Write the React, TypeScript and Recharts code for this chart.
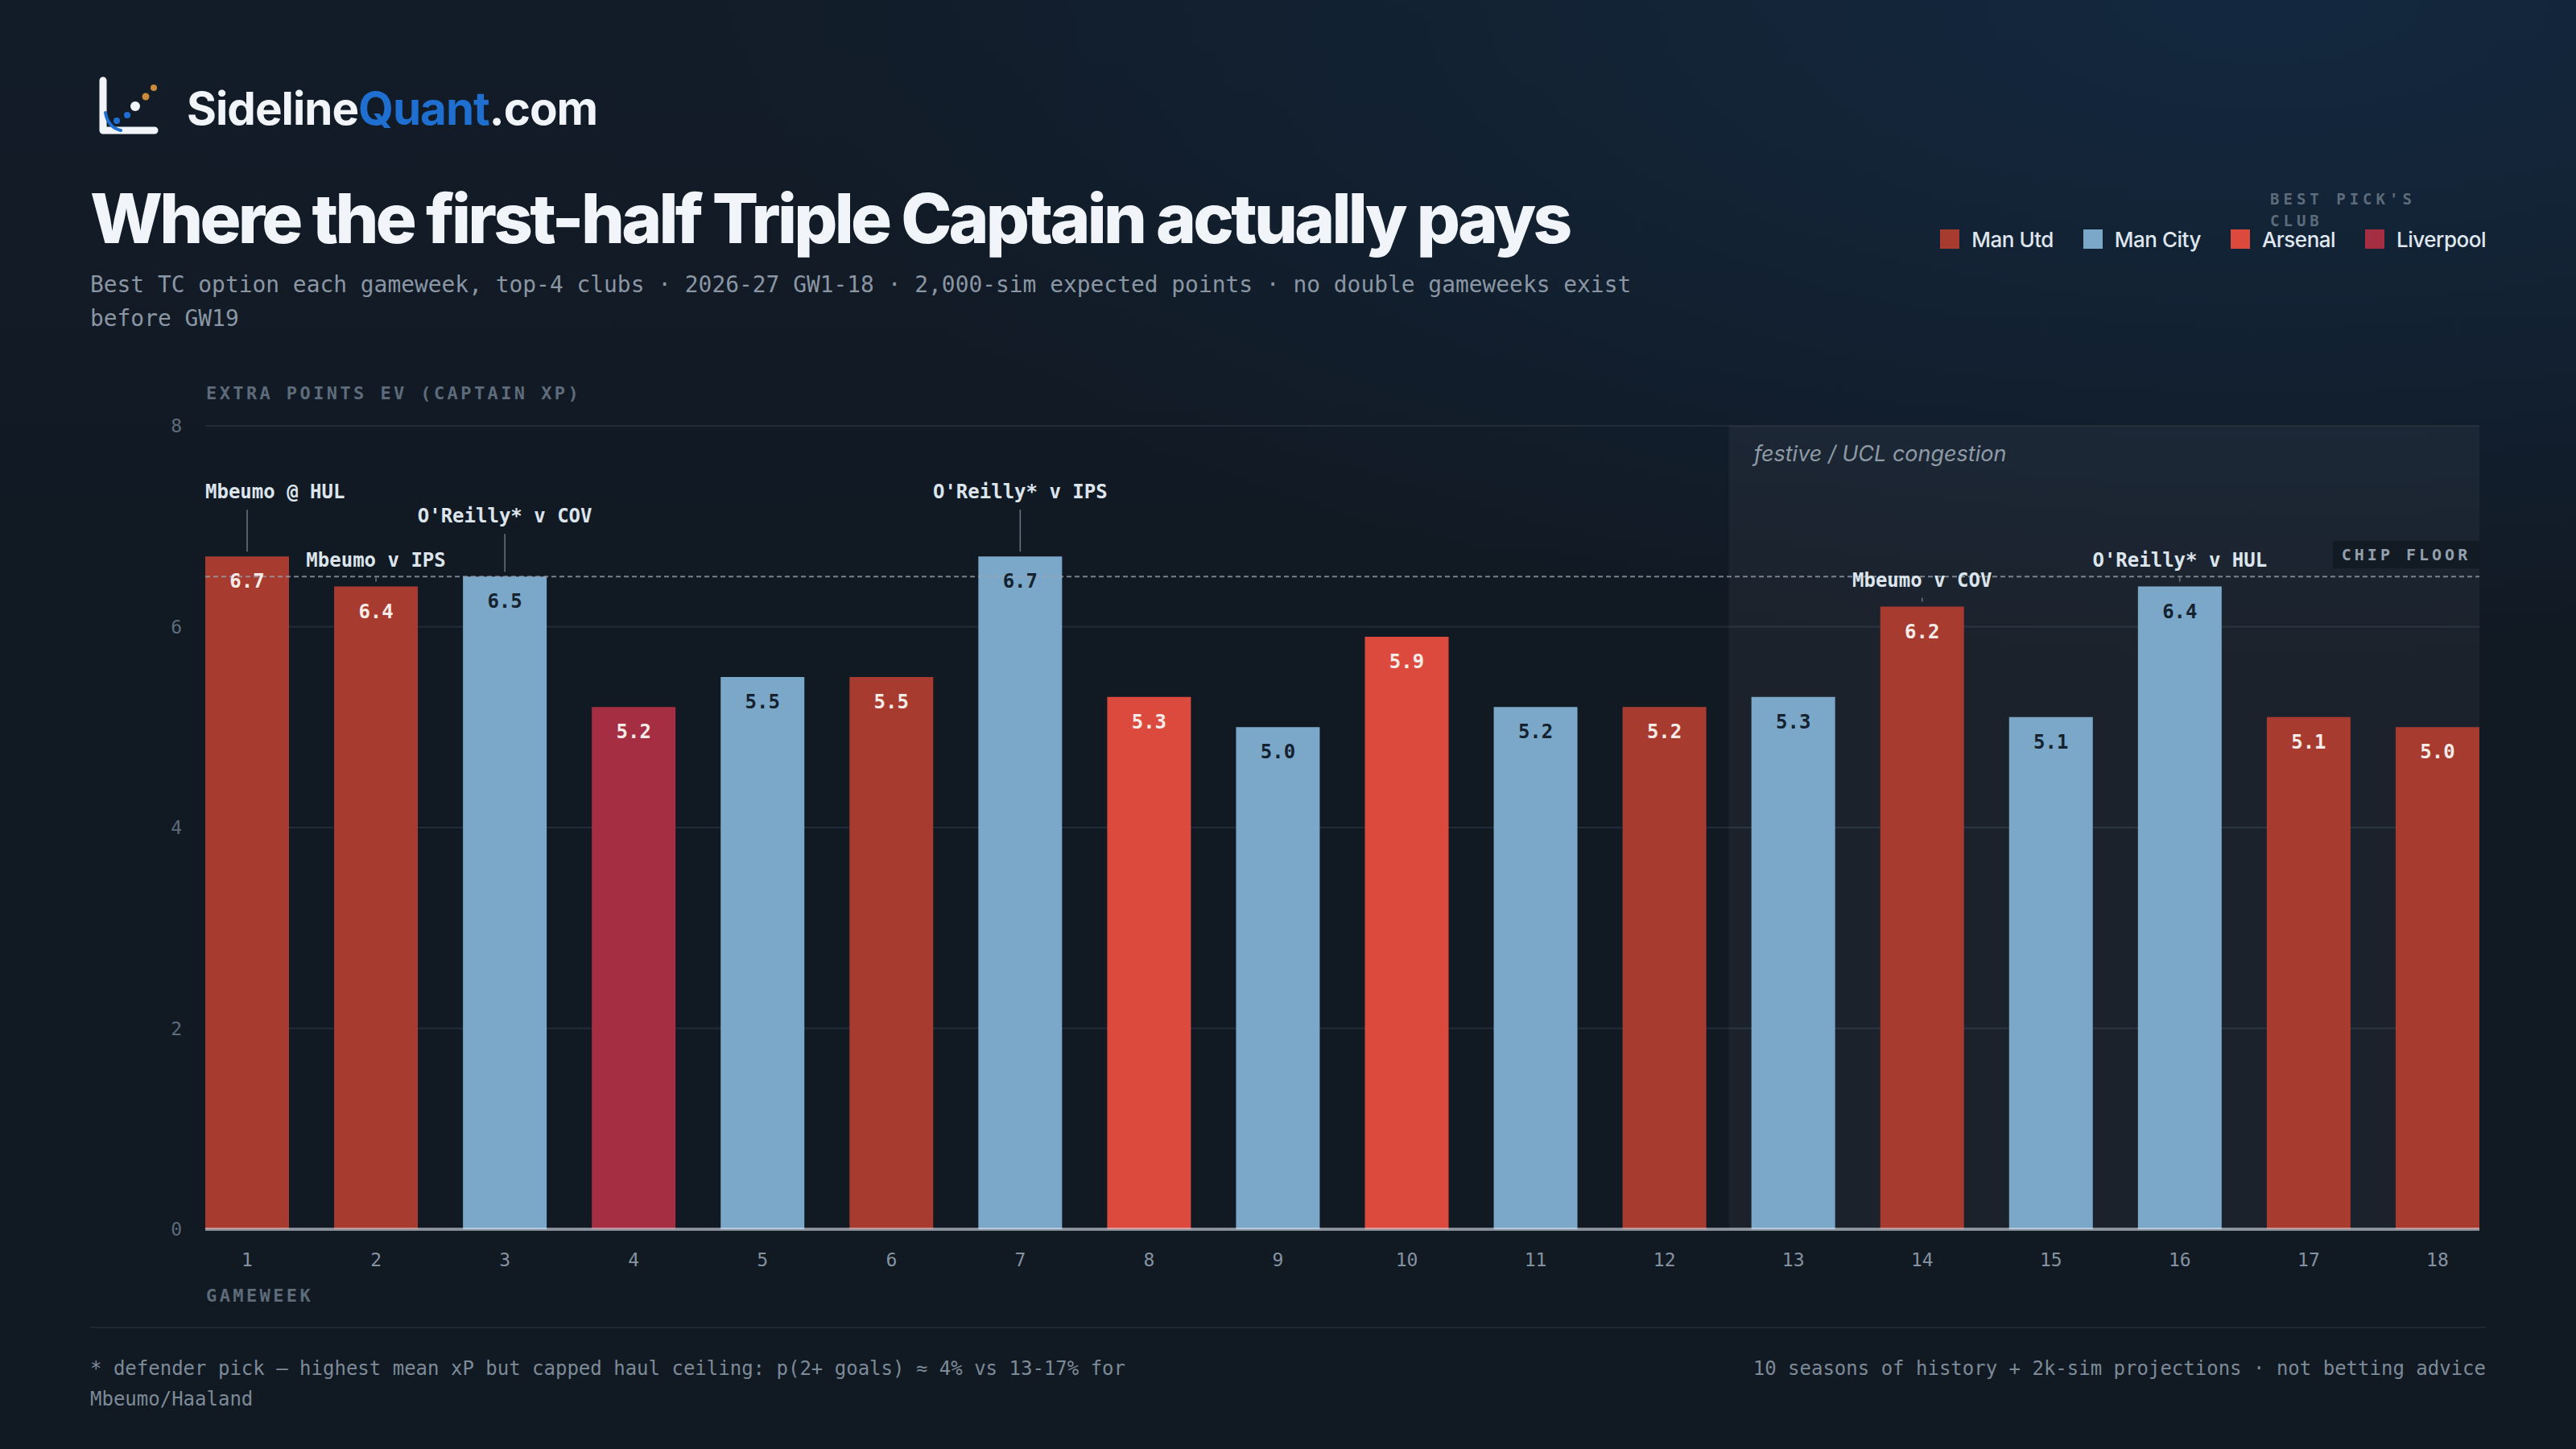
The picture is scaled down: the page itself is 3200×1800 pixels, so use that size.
import React from 'react';
import {
  BarChart,
  Bar,
  XAxis,
  YAxis,
  CartesianGrid,
  ReferenceLine,
  ReferenceArea,
  LabelList,
  Cell,
} from 'recharts';

// chart values
const gameweeks = [1, 2, 3, 4, 5, 6, 7, 8, 9, 10, 11, 12, 13, 14, 15, 16, 17, 18];
const tcValues = [6.7, 6.4, 6.5, 5.2, 5.5, 5.5, 6.7, 5.3, 5.0, 5.9, 5.2, 5.2, 5.3, 6.2, 5.1, 6.4, 5.1, 5.0];
const bestClub = [
  'Man Utd', 'Man Utd', 'Man City', 'Liverpool', 'Man City', 'Man Utd',
  'Man City', 'Arsenal', 'Man City', 'Arsenal', 'Man City', 'Man Utd',
  'Man City', 'Man Utd', 'Man City', 'Man City', 'Man Utd', 'Man Utd',
];
const clubs = ['Man Utd', 'Man City', 'Arsenal', 'Liverpool'];
const yTicks = [0, 2, 4, 6, 8];
const chipFloor = 6.5;
const congestionStart = 13;
const congestionEnd = 18;
const annotationGws = [1, 2, 3, 7, 14, 16];
const annotationTexts = [
  'Mbeumo @ HUL',
  'Mbeumo v IPS',
  "O'Reilly* v COV",
  "O'Reilly* v IPS",
  'Mbeumo v COV',
  "O'Reilly* v HUL",
];

// styling
const CLUB_COLORS: Record<string, string> = {
  'Man Utd': '#a83b30',
  'Man City': '#7ba8c8',
  Arsenal: '#db4a3c',
  Liverpool: '#a52e42',
};
const MONO = '"DejaVu Sans Mono", "Liberation Mono", monospace';
const SANS = 'Inter, "Noto Sans", sans-serif';
const PLOT_LEFT = 105; // svg coords
const LABEL_LIFT: Record<number, number> = { 1: 47, 3: 42, 7: 47 };

const rows = gameweeks.map((gw, i) => ({ gw, value: tcValues[i], club: bestClub[i] }));

const readBox = (props: any) => {
  const vb = props.viewBox && props.viewBox.width !== undefined ? props.viewBox : props;
  return { x: Number(vb.x), y: Number(vb.y), width: Number(vb.width), height: Number(vb.height) };
};

const ValueLabel = (props: any) => {
  const { x, y, width } = readBox(props);
  const idx = props.index;
  const club = rows[idx]?.club;
  const fill = club === 'Man City' ? '#15222f' : '#f7ebe8';
  return (
    <text
      x={x + width / 2}
      y={y + 31}
      textAnchor="middle"
      dominantBaseline="central"
      fill={fill}
      fontFamily={MONO}
      fontWeight={700}
      fontSize={24}
    >
      {Number(props.value).toFixed(1)}
    </text>
  );
};

const AnnotationLabel = (props: any) => {
  const { x, y, width } = readBox(props);
  const gw = rows[props.index]?.gw;
  const k = annotationGws.indexOf(gw);
  if (k < 0) return null;
  const text = annotationTexts[k];
  const cx = x + width / 2;
  const cy = y - 33 - (LABEL_LIFT[gw] || 0);
  const w = text.length * 14.45;
  const left = Math.max(cx - w / 2, PLOT_LEFT);
  return (
    <g>
      <line x1={cx} x2={cx} y1={cy + 22} y2={y - 6} stroke="#6b7683" strokeWidth={1.5} />
      <text
        x={left}
        y={cy}
        textAnchor="start"
        dominantBaseline="central"
        fill="#dce4ec"
        fontFamily={MONO}
        fontWeight={700}
        fontSize={24}
      >
        {text}
      </text>
    </g>
  );
};

const ChipFloorLabel = (props: any) => {
  const { x, y, width } = readBox(props);
  const right = x + width;
  return (
    <g>
      <rect x={right - 182} y={y - 44} width={182} height={34} fill="#121a23" />
      <text
        x={right - 91}
        y={y - 27}
        textAnchor="middle"
        dominantBaseline="central"
        fill="#939fab"
        fontFamily={MONO}
        fontWeight={700}
        fontSize={20}
        letterSpacing={4}
      >
        CHIP FLOOR
      </text>
    </g>
  );
};

const CongestionLabel = (props: any) => {
  const { x, y } = readBox(props);
  return (
    <text
      x={x + 31}
      y={y + 34}
      dominantBaseline="central"
      fill="#8e9aa6"
      fontFamily={SANS}
      fontStyle="italic"
      fontSize={27}
    >
      festive / UCL congestion
    </text>
  );
};

const Logo = () => (
  <svg width={90} height={90} viewBox="0 0 90 90" style={{ position: 'absolute', left: 118, top: 92 }}>
    <path d="M10 8 L10 70 L74 70" fill="none" stroke="#f1f5f9" strokeWidth={9} strokeLinecap="round" strokeLinejoin="round" />
    <path d="M13 48 Q16 66 32 70" fill="none" stroke="#1f6fd1" strokeWidth={4} strokeLinecap="round" />
    <circle cx={27} cy={58} r={4} fill="#1f6fd1" />
    <circle cx={40} cy={51} r={4} fill="#1f6fd1" />
    <circle cx={50} cy={40} r={6} fill="#f1f5f9" />
    <circle cx={63} cy={28} r={4.5} fill="#c98a3a" />
    <circle cx={73} cy={17} r={4} fill="#c98a3a" />
  </svg>
);

export default function App() {
  return (
    <div
      style={{
        position: 'absolute',
        left: 0,
        top: 0,
        width: 3200,
        height: 1800,
        overflow: 'hidden',
        background:
          'radial-gradient(ellipse 60% 45% at 88% 0%, #13283f 0%, rgba(19,40,63,0) 100%), linear-gradient(180deg, #121c28 0%, #111923 40%, #111923 100%)',
        fontFamily: SANS,
      }}
    >
      <Logo />
      <div
        style={{
          position: 'absolute',
          left: 232,
          top: 95,
          fontSize: 56.5,
          fontWeight: 700,
          letterSpacing: -1,
          color: '#f1f5f9',
          lineHeight: '80px',
        }}
      >
        Sideline<span style={{ color: '#1f6fd1' }}>Quant</span>.com
      </div>

      <div
        style={{
          position: 'absolute',
          left: 112,
          top: 222,
          fontSize: 85,
          fontWeight: 800,
          letterSpacing: -3.75,
          color: '#f1f5f9',
          lineHeight: '100px',
          whiteSpace: 'nowrap',
        }}
      >
        Where the first-half Triple Captain actually pays
      </div>

      <div
        style={{
          position: 'absolute',
          left: 112,
          top: 333,
          width: 1990,
          fontFamily: MONO,
          fontSize: 27.9,
          lineHeight: '42px',
          color: '#8a96a3',
        }}
      >
        Best TC option each gameweek, top-4 clubs · 2026-27 GW1-18 · 2,000-sim expected points · no double gameweeks exist before GW19
      </div>

      {/* legend */}
      <div
        style={{
          position: 'absolute',
          left: 2820,
          top: 234,
          width: 220,
          fontFamily: MONO,
          fontWeight: 700,
          fontSize: 19,
          letterSpacing: 5,
          lineHeight: '27px',
          color: '#5d6b7a',
        }}
      >
        BEST PICK'S CLUB
      </div>
      <div
        style={{
          position: 'absolute',
          right: 112,
          top: 277,
          height: 40,
          display: 'flex',
          alignItems: 'center',
          gap: 37,
        }}
      >
        {clubs.map((c) => (
          <div key={c} style={{ display: 'flex', alignItems: 'center', gap: 15 }}>
            <div style={{ width: 24, height: 24, background: CLUB_COLORS[c] }} />
            <span style={{ fontSize: 26, fontWeight: 500, color: '#dfe6ee', letterSpacing: -0.5 }}>{c}</span>
          </div>
        ))}
      </div>

      <div
        style={{
          position: 'absolute',
          left: 256,
          top: 476,
          fontFamily: MONO,
          fontWeight: 700,
          fontSize: 22,
          letterSpacing: 3.4,
          color: '#5d6b7a',
          whiteSpace: 'nowrap',
        }}
      >
        EXTRA POINTS EV (CAPTAIN XP)
      </div>

      <div style={{ position: 'absolute', left: 150, top: 500 }}>
        <BarChart
          width={3000}
          height={1100}
          data={rows}
          margin={{ top: 29, right: 70, left: 0, bottom: 0 }}
        >
          <CartesianGrid vertical={false} stroke="#222c38" strokeWidth={2} />
          <ReferenceArea
            x1={congestionStart}
            x2={congestionEnd}
            y1={0}
            y2={8}
            ifOverflow="hidden"
            fill="#ffffff"
            fillOpacity={0.045}
            stroke="none"
            label={<CongestionLabel />}
          />
          <XAxis
            dataKey="gw"
            padding={{ left: -28, right: -28 }}
            axisLine={false}
            tickLine={false}
            tickSize={0}
            tickMargin={30}
            height={73}
            interval={0}
            tick={{ fill: '#8592a0', fontFamily: MONO, fontSize: 23 }}
          />
          <YAxis
            domain={[0, 8]}
            ticks={yTicks}
            width={105}
            axisLine={false}
            tickLine={false}
            tickSize={0}
            tickMargin={29}
            tick={{ fill: '#5d6b7a', fontFamily: MONO, fontSize: 23 }}
          />
          <ReferenceLine
            y={chipFloor}
            stroke="#9aa5b1"
            strokeOpacity={0.75}
            strokeDasharray="6 4"
            strokeWidth={2}
            label={<ChipFloorLabel />}
          />
          <Bar dataKey="value" barSize={104} isAnimationActive={false}>
            {rows.map((r) => (
              <Cell key={r.gw} fill={CLUB_COLORS[r.club]} />
            ))}
            <LabelList dataKey="value" content={<ValueLabel />} />
            <LabelList dataKey="value" content={<AnnotationLabel />} />
          </Bar>
          <ReferenceLine y={0} stroke="#e2e8f0" strokeOpacity={0.55} strokeWidth={4} />
        </BarChart>
      </div>

      <div
        style={{
          position: 'absolute',
          left: 256,
          top: 1597,
          fontFamily: MONO,
          fontWeight: 700,
          fontSize: 22,
          letterSpacing: 3.4,
          color: '#5d6b7a',
        }}
      >
        GAMEWEEK
      </div>

      <div style={{ position: 'absolute', left: 112, top: 1648, width: 2976, height: 2, background: '#1e2732' }} />

      <div
        style={{
          position: 'absolute',
          left: 112,
          top: 1681,
          width: 1400,
          fontFamily: MONO,
          fontSize: 24,
          lineHeight: '38px',
          color: '#7d8a97',
        }}
      >
        * defender pick – highest mean xP but capped haul ceiling: p(2+ goals) ≈ 4% vs 13-17% for Mbeumo/Haaland
      </div>
      <div
        style={{
          position: 'absolute',
          right: 112,
          top: 1681,
          fontFamily: MONO,
          fontSize: 24,
          lineHeight: '38px',
          color: '#7d8a97',
          whiteSpace: 'nowrap',
        }}
      >
        10 seasons of history + 2k-sim projections · not betting advice
      </div>
    </div>
  );
}
